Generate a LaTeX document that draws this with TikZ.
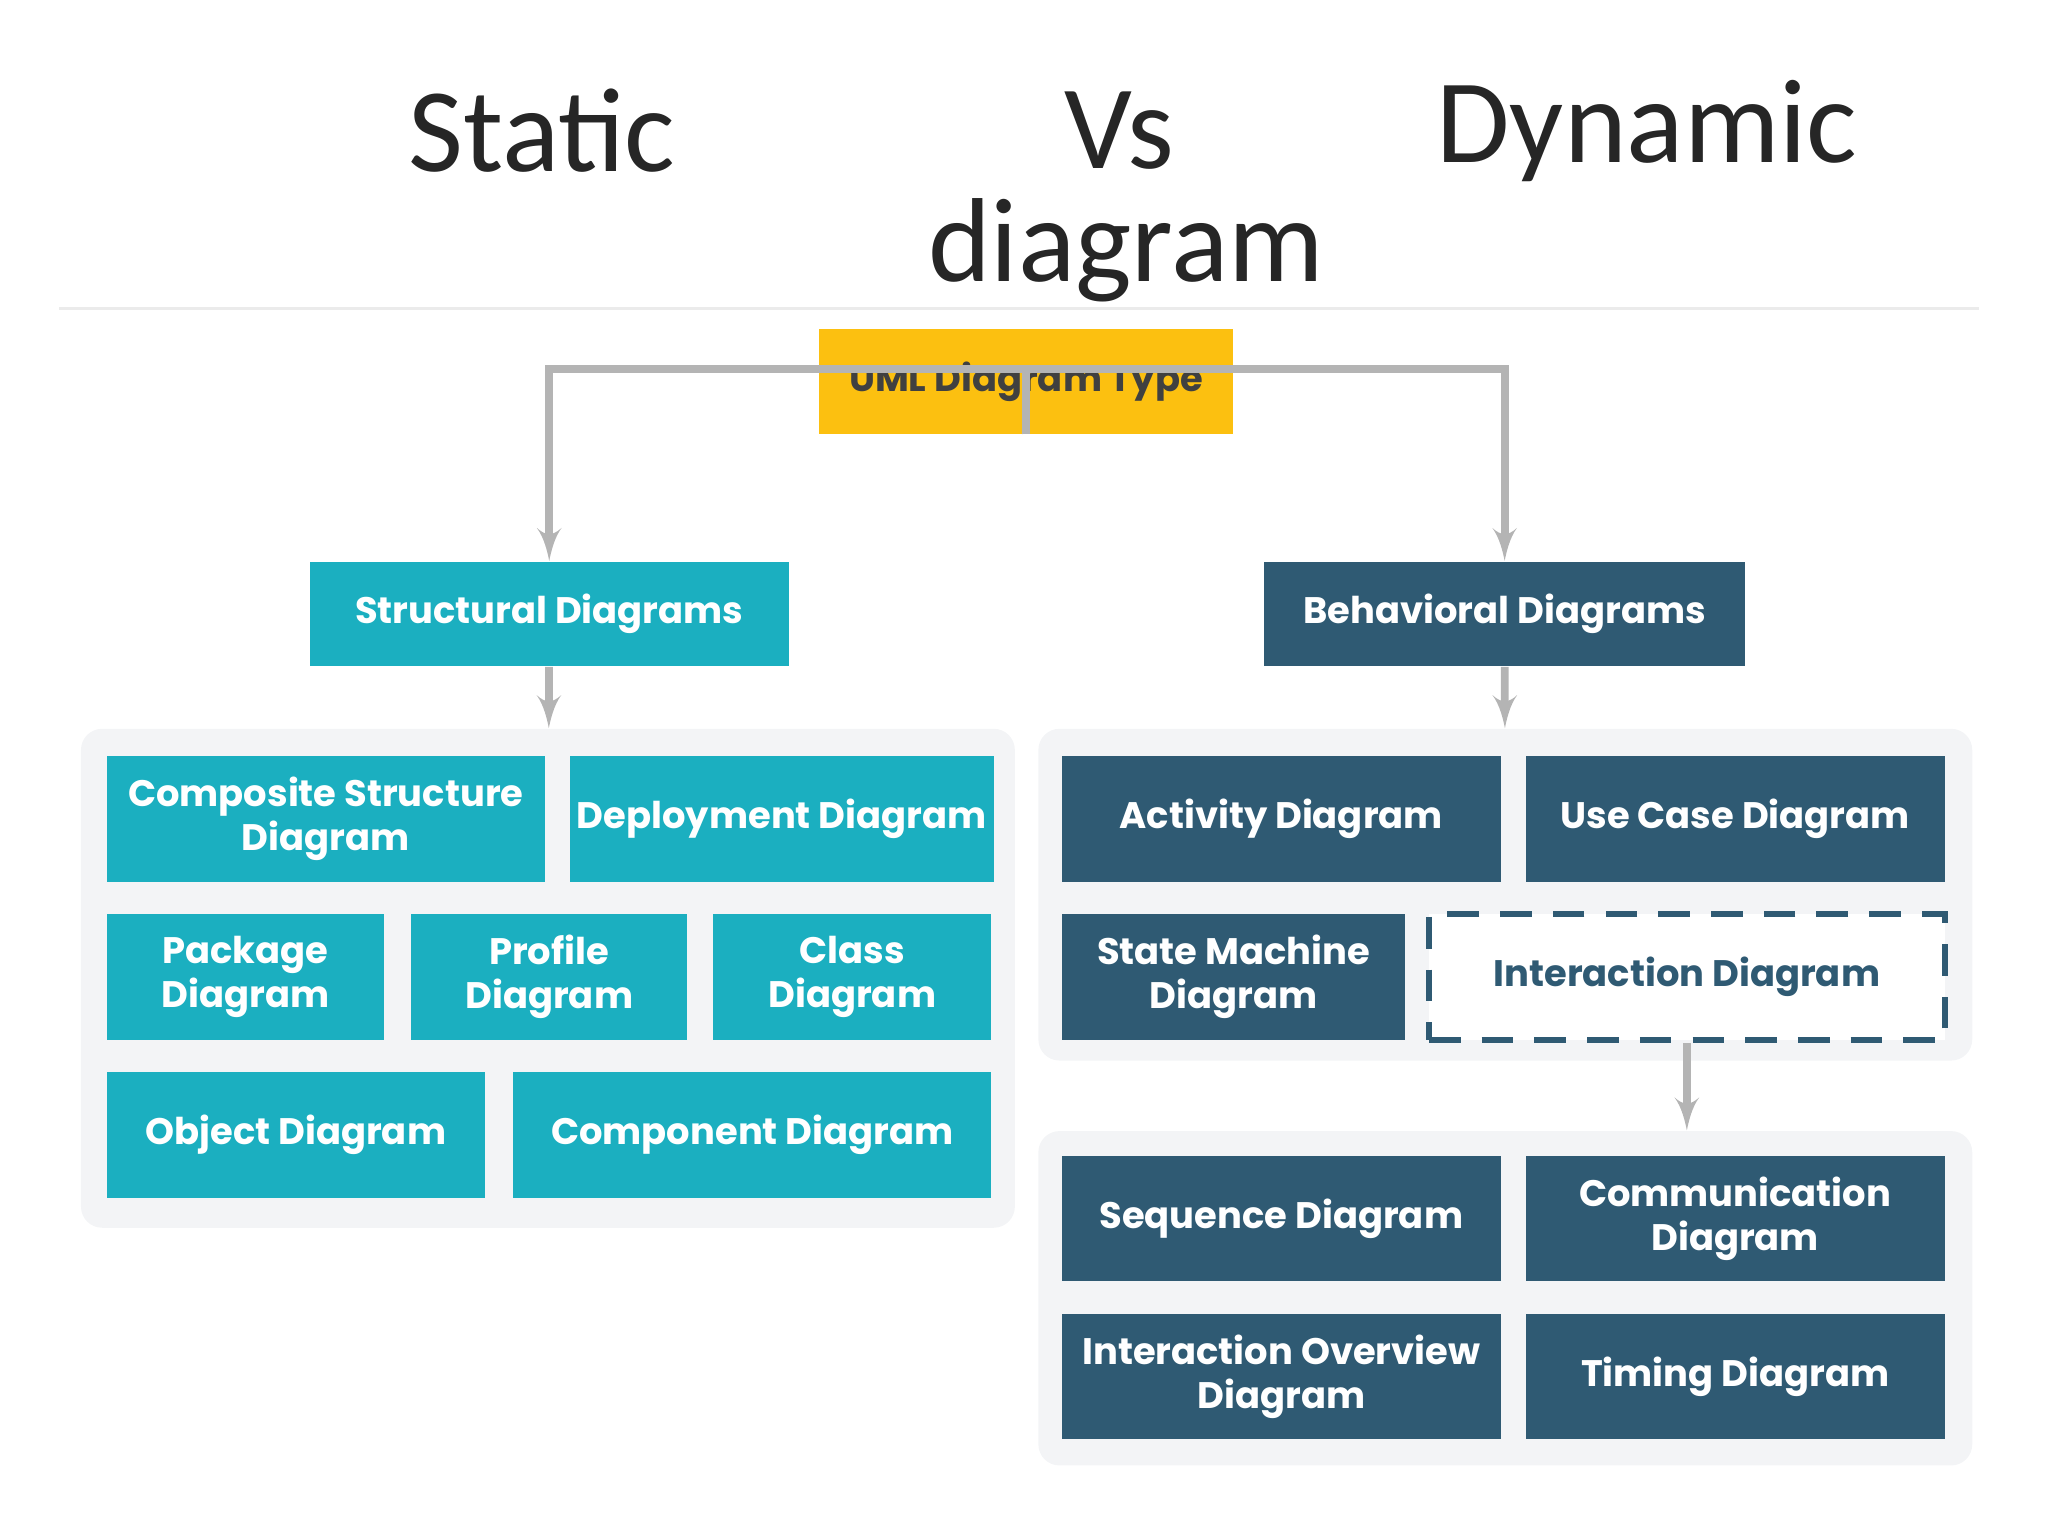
\documentclass[tikz,border=0pt]{standalone}
\usepackage{fontspec}
\setmainfont{Carlito}
\newfontfamily\boxfont{Poppins}
\usepackage{tikz}
\usetikzlibrary{arrows}
\newlength{\pu}\setlength{\pu}{0.013061cm}
\definecolor{umlyellow}{HTML}{FCC010}
\definecolor{structteal}{HTML}{1BAFC0}
\definecolor{behavblue}{HTML}{2F5A73}
\definecolor{panelgray}{HTML}{F3F4F6}
\definecolor{linegray}{HTML}{B4B4B4}
\tikzstyle{dbox} = [rectangle, inner sep=2pt, align=center, text=white,
    font=\boxfont\bfseries\fontsize{10.5}{12.5}\selectfont, minimum height=96\pu]
\tikzstyle{sbox} = [dbox, fill=structteal]
\tikzstyle{bbox} = [dbox, fill=behavblue]
\tikzstyle{panel} = [rectangle, fill=panelgray, rounded corners=6pt, inner sep=0pt]
\tikzstyle{title} = [font=\fontsize{34}{40}\selectfont, text=black!85]
\tikzstyle{line} = [draw, linegray, line width=2.2pt, -latex']

\begin{document}
\begin{tikzpicture}[x=\pu, y=-\pu]
            \useasboundingbox (0,0) rectangle (1568,1176);
            % Heading
            \node [title] (tstatic) at (415,100) {Static};
            \node [title] (tvs) at (857,100) {Vs};
            \node [title] (tdyn) at (1261,100) {Dynamic};
            \node [title] (tdiag) at (862,192) {diagram};
            \draw [black!8, line width=0.8pt] (45,236) -- (1515,236);

            % Panels
            \node [panel, minimum width=715\pu, minimum height=382\pu] (lpanel) at (419.5,749) {};
            \node [panel, minimum width=715\pu, minimum height=254\pu] (rpanel) at (1152.5,685) {};
            \node [panel, minimum width=715\pu, minimum height=256\pu] (ipanel) at (1152.5,994) {};

            % Place nodes
            \node [dbox, fill=umlyellow, text=black!75, minimum width=317\pu, minimum height=80\pu] (uml) at (785.5,292) {UML Diagram Type};
            \node [sbox, minimum width=367\pu, minimum height=80\pu] (struct) at (420.5,470) {Structural Diagrams};
            \node [bbox, minimum width=368\pu, minimum height=80\pu] (behav) at (1152,470) {Behavioral Diagrams};

            \node [sbox, minimum width=335\pu] (composite) at (249.5,627) {Composite Structure\\Diagram};
            \node [sbox, minimum width=321\pu] (deploy) at (598.5,627) {Deployment Diagram};
            \node [sbox, minimum width=212\pu] (package) at (188,748) {Package\\Diagram};
            \node [sbox, minimum width=211\pu] (profile) at (420.5,748) {Profile\\Diagram};
            \node [sbox, minimum width=213\pu] (class) at (652.5,748) {Class\\Diagram};
            \node [sbox, minimum width=289\pu] (object) at (226.5,869) {Object Diagram};
            \node [sbox, minimum width=366\pu] (component) at (576,869) {Component Diagram};

            \node [bbox, minimum width=336\pu] (activity) at (981,627) {Activity Diagram};
            \node [bbox, minimum width=321\pu] (usecase) at (1328.5,627) {Use Case Diagram};
            \node [bbox, minimum width=263\pu] (state) at (944.5,748) {State Machine\\Diagram};
            \node [dbox, fill=white, text=behavblue, draw=behavblue, line width=1.8pt, dash pattern=on 9pt off 6pt, minimum width=395\pu] (interact) at (1291.5,748) {Interaction Diagram};

            \node [bbox, minimum width=336\pu] (sequence) at (981,933) {Sequence Diagram};
            \node [bbox, minimum width=321\pu] (commun) at (1328.5,933) {Communication\\Diagram};
            \node [bbox, minimum width=336\pu] (overview) at (981,1054) {Interaction Overview\\Diagram};
            \node [bbox, minimum width=321\pu] (timing) at (1328.5,1054) {Timing Diagram};

            % Draw edges
            \path [line] (uml.south) -- ++(0,-50) -| (struct.north);
            \path [line] (uml.south) -- ++(0,-50) -| (behav.north);
            \path [line] (struct) -- (lpanel);
            \path [line] (behav) -- (rpanel);
            \path [line] (interact.south) -- (interact.south |- ipanel.north);

        \end{tikzpicture}
\end{document}
